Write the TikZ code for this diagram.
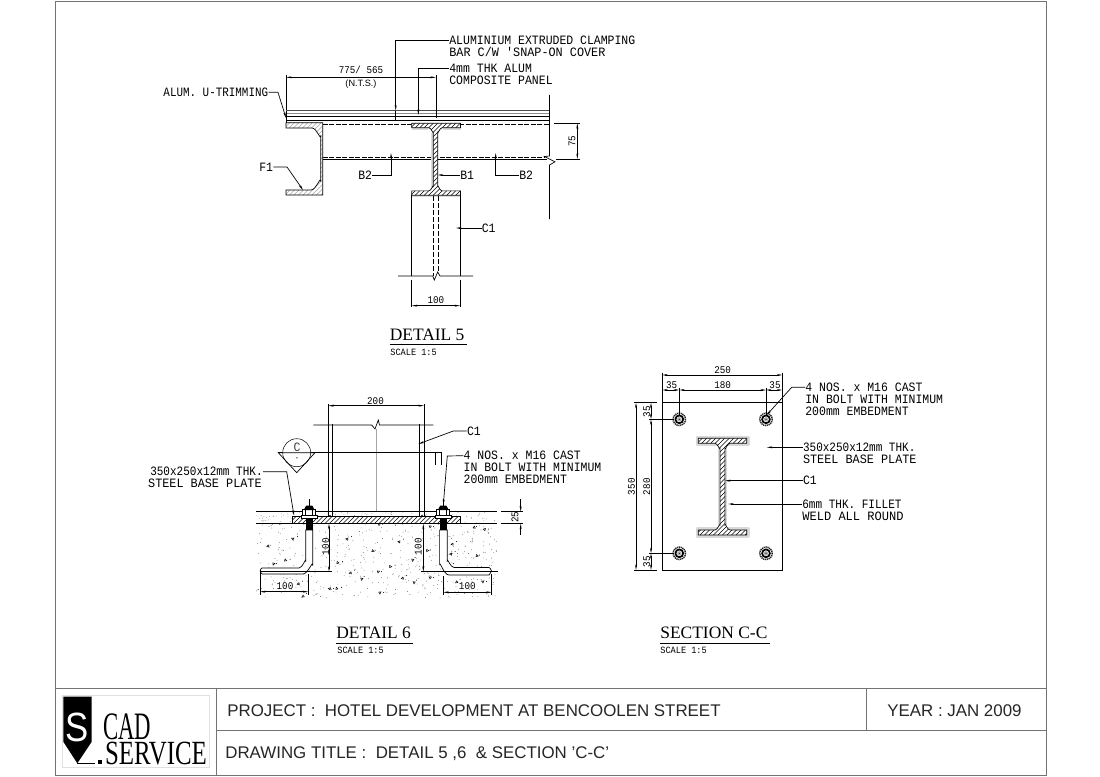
\documentclass[tikz,border=0pt]{standalone}
\usepackage{fontspec}
\usepackage{graphicx}
\usetikzlibrary{arrows.meta}
\setmainfont{Liberation Sans}
\newfontfamily\cadf[FakeStretch=0.9]{Liberation Mono}
\newfontfamily\serf{Liberation Serif}
\newcommand\hatchit[6][hatchline]{%
  \begin{scope}\clip #2;
  \pgfmathsetmacro\hh{#6-#4}\pgfmathsetmacro\xa{#3-\hh}\pgfmathsetmacro\xb{\xa+4.5}
  \foreach \s in {\xa,\xb,...,#5}{\draw[#1] (\s,#6) -- ++(\hh,-\hh);}
  \end{scope}}
% x1 x2 flange, w1 w2 web, y1 y2, t, r
\newcommand\ipath[8]{(#1,#5) -- (#2,#5) -- (#2,#5+#7) -- (#4+#8,#5+#7) to[out=180,in=-90] (#4,#5+#7+#8) -- (#4,#6-#7-#8) to[out=90,in=180] (#4+#8,#6-#7) -- (#2,#6-#7) -- (#2,#6) -- (#1,#6) -- (#1,#6-#7) -- (#3-#8,#6-#7) to[out=0,in=90] (#3,#6-#7-#8) -- (#3,#5+#7+#8) to[out=-90,in=0] (#3-#8,#5+#7) -- (#1,#5+#7) -- cycle}
\newcommand\agg[2]{\draw[line width=.45bp,rotate around={#1*7:(#1,#2)}] (#1,#2) -- ++(2.2,.6) -- ++(-1.6,1.8) -- cycle;
  \fill (#1+3.5,#2-1.5) circle (.5);}
\newcommand\bnut[2]{%
  \draw[fill=white] (#1-7.8,515) rectangle (#1+7.8,518);
  \draw[fill=white] (#1-6.5,509.5) rectangle (#1+6.5,515);
  \draw (#1-3.5,509.5) -- (#1-3.5,515) (#1+3.5,509.5) -- (#1+3.5,515);
  \fill (#1-5.5,510) -- (#1-3,505.5) -- (#1+3,505.5) -- (#1+5.5,510) -- cycle;
  \draw (#1,499) -- (#1,506);
  \fill (#1-3.5,518) rectangle (#1+3.5,530);}
\newcommand\sbolt[2]{%
  \draw[line width=1.5bp,dash pattern=on 1.2bp off .7bp,black!85] (#1,#2) circle (6.2);
  \draw[line width=1.7bp] (#1,#2) circle (3.9);
  \fill[gray!60] (#1,#2) circle (2.2);
  \fill (#1,#2) circle (.6);}
\tikzset{
  x=1bp,y=-1bp,
  hatchline/.style={line width=.55bp,black},
  ghatch/.style={line width=.4bp,gray!70},
  halo/.style={line width=1.6bp,gray!28},
  arr/.style={-{Stealth[length=5.5bp,width=2bp]}},
  dim/.style={{Stealth[length=5.5bp,width=2bp]}-{Stealth[length=5.5bp,width=2bp]}},
  lab/.style={font=\cadf\fontsize{12.8}{13}\selectfont,inner sep=0pt,anchor=west,text height=8.2bp,text depth=0pt},
  labr/.style={lab,anchor=east},
  dimt/.style={font=\cadf\fontsize{10.3}{11}\selectfont,inner sep=0pt,text height=6.8bp,text depth=0pt},
  ttl/.style={font=\serf\fontsize{17.5}{18}\selectfont,inner sep=0pt,anchor=west,text height=11.5bp,text depth=0pt},
  scl/.style={font=\cadf\fontsize{9.6}{10}\selectfont,inner sep=0pt,anchor=west,text height=6.4bp,text depth=0pt},
  tb/.style={font=\fontsize{16.95}{18}\selectfont,inner sep=0pt,anchor=west,text height=12.2bp,text depth=0pt,text=black!85},
  frm/.style={line width=1bp,black!55},
}
\begin{document}
\begin{tikzpicture}[line width=.68bp]
\useasboundingbox (0,0) rectangle (1100,777);
\fill[white] (0,0) rectangle (1100,777);
% frame
\draw[frm] (55,2) rectangle (1046,775);
\draw[frm] (55,688) -- (1046,688);
\draw[frm] (216,688) -- (216,775);
\draw[frm] (216,730) -- (1046,730);
\draw[frm] (866,688) -- (866,730);
% logo
\draw[line width=.5bp,black!12] (62.7,695) rectangle (209.3,767);
\fill (63.3,696.7) -- (91.7,696.7) -- (91.7,741.7) -- (77.3,763.3) -- (63.3,741.7) -- cycle;
\draw (77.3,763.3) -- (95,763.3);
\fill (98.3,759.7) rectangle (102.3,763.5);
\node[inner sep=0pt,text=white,font=\fontsize{41}{42}\selectfont] (logoS) at (77.3,727.5) {\scalebox{.85}[1]{S}};
\node[inner sep=0pt,font=\serf\fontsize{39}{40}\selectfont,anchor=base west] (logoCad) at (103,739) {\scalebox{.585}[1]{CAD}};
\node[inner sep=0pt,font=\serf\fontsize{34}{40}\selectfont,anchor=base west] (logoSvc) at (104.8,764.2) {\scalebox{.735}[1]{SERVICE}};
\node[tb] (tProj) at (227,710) {PROJECT :\ \ HOTEL DEVELOPMENT AT BENCOOLEN STREET};
\node[tb] (tYear) at (887,710) {YEAR : JAN 2009};
\node[tb] (tDraw) at (225,752) {DRAWING TITLE :\ \ DETAIL 5 ,6\ \ \& SECTION \symbol{39}C-C\symbol{39}};

%================ DETAIL 5
\draw[line width=.6bp,black!70] (286,110.7) -- (549.5,110.7);
\draw[line width=.5bp,black!45] (286,113.5) -- (549.5,113.5);
\draw[line width=1.3bp] (286,116.3) -- (549.5,116.3);
\draw[line width=.8bp] (286,120.3) -- (549.5,120.3);
\draw (286,110.7) -- (286,122.7);
% channel F1
\newcommand\chpath{(286,122.7) -- (322.7,122.7) -- (322.7,195) -- (286,195) -- (286,190) -- (311,190) to[out=0,in=90] (320.7,181) -- (320.7,136) to[out=-90,in=0] (312,128) -- (286,128) -- cycle}
\hatchit[ghatch]{\chpath}{286}{122}{323}{196}
\draw \chpath;
% beam B2
\draw[line width=.9bp,dash pattern=on 5bp off 1.5bp] (322.7,124.3) -- (549.5,124.3);
\draw[line width=.9bp,dash pattern=on 5bp off 1.5bp] (322.7,157.4) -- (545,157.4);
\draw[line width=.75bp] (322.7,159.2) -- (547,159.2);
\draw (549.5,95) -- (549.5,156) -- (544.5,156.5) -- (555,161.8) -- (549.5,165) -- (549.5,219);
% I-section
\draw[halo] (411.7,129) -- (428,129) (443,129) -- (460.7,129) (432,133) -- (432,187) (411.7,196.5) -- (460,196.5);
\fill[white] \ipath{411.7}{460.5}{433.3}{437.7}{123.3}{195.3}{4.4}{4.5};
\hatchit{\ipath{411.7}{460.5}{433.3}{437.7}{123.3}{195.3}{4.4}{4.5}}{411}{123}{461}{196}
\draw \ipath{411.7}{460.5}{433.3}{437.7}{123.3}{195.3}{4.4}{4.5};
% column
\draw (411.7,195.3) -- (411.7,276) (460.2,195.3) -- (460.2,276);
\draw[line width=.8bp,dash pattern=on 5bp off 2bp] (433.3,196) -- (433.3,276);
\draw[line width=.8bp,dash pattern=on 5bp off 2bp] (438.3,196) -- (438.3,272);
\draw (398,276) -- (432.7,276) -- (434.3,280) -- (437.7,272) -- (440,276) -- (473,276);
% dims
\draw (286,75) -- (286,110);
\draw (436,75) -- (436,118);
\draw[dim] (286,77.3) -- (436,77.3);
\node[dimt,font=\cadf\fontsize{10.3}{11}\selectfont] (d775) at (361,70) {775/ 565};
\node[dimt,font=\fontsize{9.2}{10}\selectfont] (dnts) at (361,83) {(N.T.S.)};
\draw (554,123.3) -- (580,123.3) (556,159) -- (580,159);
\draw[dim] (577.3,123.3) -- (577.3,159);
\node[dimt,rotate=90] (d75) at (572,141) {75};
\draw (411.7,280) -- (411.7,307) (460.2,280) -- (460.2,307);
\draw[dim] (411.7,305.7) -- (460.2,305.7);
\node[dimt] (d100) at (435.9,300.5) {100};
% labels & leaders
\node[labr] (lUtrim) at (268.5,92.3) {\scalebox{.95}[1]{ALUM. U-TRIMMING}};
\coordinate (cU1) at (278,92.3); \coordinate (cU2) at (286,118);
\draw[arr] (lUtrim.east) -- (cU1) -- (cU2);
\node[lab] (lAl1) at (449,40) {ALUMINIUM EXTRUDED CLAMPING};
\node[lab] (lAl2) at (449,52) {\scalebox{1.03}[1]{BAR C/W 'SNAP-ON COVER}};
\coordinate (cA1) at (395.7,40); \coordinate (cA2) at (395.7,110.5); \coordinate (cA3) at (395.7,120);
\draw[arr] (lAl1.west) -- (cA1) -- (cA2);
\draw (cA2) -- (cA3);
\node[lab] (lCp1) at (449,68.3) {4mm THK ALUM};
\node[lab] (lCp2) at (449,80.3) {COMPOSITE PANEL};
\coordinate (cC1) at (418.3,68.3); \coordinate (cC2) at (418.3,115);
\draw[arr] (lCp1.west) -- (cC1) -- (cC2);
\node[lab] (lF1) at (259,167) {F1};
\coordinate (cF1) at (287,167); \coordinate (cF2) at (303,190);
\draw[arr] (lF1.east) -- (cF1) -- (cF2);
\node[lab] (lB2a) at (358,175.7) {B2};
\coordinate (cB1) at (391,175.7); \coordinate (cB2) at (391,153);
\draw[arr] (lB2a.east) -- (cB1) -- (cB2);
\node[lab] (lB1) at (460,175) {B1};
\coordinate (cB3) at (437.7,175);
\draw[arr] (lB1.west) -- (cB3);
\node[lab] (lB2b) at (519,175.7) {B2};
\coordinate (cB4) at (495.7,175.7); \coordinate (cB5) at (495.7,153);
\draw[arr] (lB2b.west) -- (cB4) -- (cB5);
\node[lab] (lC1a) at (481.5,228) {C1};
\coordinate (cC3) at (456,228);
\draw[arr] (lC1a.west) -- (cC3);
\node[ttl] (tD5) at (389.5,334.5) {DETAIL 5};
\draw[line width=.9bp] (389.5,344) -- (467,344);
\node[scl] (sD5) at (390,352) {SCALE 1:5};

%================ DETAIL 6
% concrete
\begin{scope}
\pgfmathsetseed{4711}
\foreach \k in {1,...,480}{
  \pgfmathsetmacro\px{256+rnd*241}\pgfmathsetmacro\py{512+rnd*86}
  \fill[black!60] (\px,\py) circle (.42);}
\foreach \k in {1,...,80}{
  \pgfmathsetmacro\px{256+rnd*241}\pgfmathsetmacro\py{512.5+rnd*11}
  \fill[black!60] (\px,\py) circle (.38);}
\end{scope}
\foreach \a/\b in {266.7/546.7,294/538,286.7/560.7,273/565,348/538,371.7/551.7,339/563,351/571.7,360.7/578,338/589,330/590,303/595,299/582.7,379/525.7,430/528,473/528,485/530.7,453/543,451.7/553,476/556.7,450/565,426.7/551.7,411.7/559,400/540.7,391.7/566.7,378/573,403/577,413/581.7,430/579,456.7/580.7,483/583,380/594}{\agg{\a}{\b}}
\draw[line width=.75bp] (256,511.7) -- (496.7,511.7);
\draw[line width=.75bp] (256,523.5) -- (496.7,523.5);
% column
\draw (328.3,404) -- (328.3,516) (332.7,423.5) -- (332.7,516);
\draw (419.3,423.5) -- (419.3,516) (424,404) -- (424,516);
\draw (313.3,425) -- (371.7,425) -- (375,429) -- (378.3,420) -- (379.5,425) -- (433.3,425);
\draw[line width=.4bp,black!35] (376,429) -- (376,511);
% base plate
\newcommand\bppath{(292.7,516) -- (460.7,516) -- (460.7,523.7) -- (292.7,523.7) -- cycle}
\fill[white] \bppath;
\hatchit{\bppath}{292}{516}{461}{524}
\draw \bppath;
\fill (330,516) circle (1.2) (422,516) circle (1.2);
% bolts
\draw[fill=white] (305.7,530) -- (305.7,561) to[out=90,in=0] (299,568) -- (262,568) to[out=180,in=-90] (260,571) -- (262,574) -- (303,574) to[out=0,in=90] (312.7,565) -- (312.7,530) -- cycle;
\draw[fill=white] (447.3,530) -- (447.3,561) to[out=90,in=180] (454,567.5) -- (489,567.5) to[out=0,in=-90] (491.7,571) -- (489,575) -- (449,575) to[out=180,in=90] (439.6,565) -- (439.6,530) -- cycle;
\bnut{309.2}{}
\bnut{443.3}{}
% section cut
\draw (278.3,452.7) -- (441.7,452.7) -- (441.7,465) (435.7,452.7) -- (435.7,465);
\draw[line width=.5bp,fill=white] (296.7,452.7) circle (14);
\draw (278.3,452.7) -- (315,452.7) -- (296.7,472.7) -- cycle;
\node[inner sep=0pt,font=\cadf\fontsize{12.8}{13}\selectfont,text=black!75] (secC) at (297,447) {C};
\node[inner sep=0pt,font=\cadf\fontsize{8}{9}\selectfont] (secD) at (297,459) {-};
% dims
\draw[dim] (328.3,405.7) -- (424,405.7);
\node[dimt] (d200) at (375.5,401) {200};
\draw (260,571.7) -- (331.7,571.7);
\draw[dim] (329,523.7) -- (329,571.7);
\node[dimt,rotate=90] (d100a) at (325.7,546.7) {100};
\draw (260,570) -- (260,595) (308.3,574) -- (308.3,595);
\draw[dim] (260,591.7) -- (308.3,591.7);
\node[dimt] (d100b) at (285,586.5) {100};
\draw (420.7,571.7) -- (498,571.7);
\draw[dim] (423.3,523.7) -- (423.3,571.7);
\node[dimt,rotate=90] (d100c) at (418.3,546.7) {100};
\draw (443.3,576) -- (443.3,595) (491.7,574) -- (491.7,595);
\draw[dim] (443.3,592.3) -- (491.7,592.3);
\node[dimt] (d100d) at (467.3,586.5) {100};
\draw (500.7,511.7) -- (523.3,511.7) (500.7,523.7) -- (523.3,523.7);
\draw[-{Stealth[length=5.5bp,width=2bp]}] (520.7,499.3) -- (520.7,511.7);
\draw[-{Stealth[length=5.5bp,width=2bp]}] (520.7,535) -- (520.7,523.7);
\node[dimt,rotate=90] (d25) at (515,517) {25};
% labels
\node[labr] (lPl1) at (263,471.7) {\scalebox{.96}[1]{350x250x12mm THK.}};
\node[labr] (lPl2) at (262,483) {\scalebox{1.03}[1]{STEEL BASE PLATE}};
\coordinate (cP1) at (286.7,471.7); \coordinate (cP2) at (294,515.5);
\draw[arr] (lPl1.east) -- (cP1) -- (cP2);
\node[lab] (lC1b) at (466.7,431) {C1};
\coordinate (cC4) at (453.3,431); \coordinate (cC5) at (418.3,444);
\draw[arr] (lC1b.west) -- (cC4) -- (cC5);
\node[lab] (lN1) at (463.3,455.7) {4 NOS. x M16 CAST};
\node[lab] (lN2) at (463.3,467.7) {IN BOLT WITH MINIMUM};
\node[lab] (lN3) at (463.3,479.3) {200mm EMBEDMENT};
\coordinate (cN1) at (447.3,456); \coordinate (cN2) at (443.3,505);
\draw[arr] (lN1.west) -- (cN1) -- (cN2);
\node[ttl] (tD6) at (336,632.5) {DETAIL 6};
\draw[line width=.9bp] (336,643) -- (413,643);
\node[scl] (sD6) at (337,650) {SCALE 1:5};

%================ SECTION C-C
\draw (662.3,402.7) rectangle (782.3,570);
\draw[line width=1bp] (662.3,402.7) -- (782.3,402.7);
\draw[line width=2.6bp,gray!30,line join=round] (696.8,436.8) rectangle (748.2,444.8);
\draw[line width=2.6bp,gray!30,line join=round] (696.8,528.5) rectangle (748.2,536.5);
\draw[line width=1.5bp,gray!30] (718.5,448) -- (718.5,526) (726.5,448) -- (726.5,526);
\fill[white] \ipath{698.3}{746.7}{720}{725}{438.3}{535}{5}{5};
\hatchit{\ipath{698.3}{746.7}{720}{725}{438.3}{535}{5}{5}}{698}{438}{747}{535}
\draw \ipath{698.3}{746.7}{720}{725}{438.3}{535}{5}{5};
\sbolt{679.3}{419.3}\sbolt{766}{419.3}\sbolt{679.3}{553.3}\sbolt{766}{553.3}
% dims
\draw (662.3,372.7) -- (662.3,402.7) (782.3,372.7) -- (782.3,402.7);
\draw[dim] (662.3,375) -- (782.3,375);
\node[dimt] (d250) at (722.7,370) {250};
\draw (679.3,387.7) -- (679.3,415) (766,387.7) -- (766,415);
\draw[dim] (662.3,390) -- (679.3,390);
\draw[dim] (679.3,390) -- (766,390);
\draw[dim] (766,390) -- (782.3,390);
\node[dimt] (d35a) at (671.7,385.3) {35};
\node[dimt] (d180) at (722.7,385.3) {180};
\node[dimt] (d35b) at (775,385.3) {35};
\draw (634,402.7) -- (657,402.7) (634,570) -- (657,570);
\draw[dim] (636,402.7) -- (636,570);
\node[dimt,rotate=90] (d350) at (631.5,486.7) {350};
\draw (649,419.3) -- (674,419.3) (649,553.3) -- (674,553.3);
\draw[dim] (651,402.7) -- (651,419.3);
\draw[dim] (651,419.3) -- (651,553.3);
\draw[dim] (651,553.3) -- (651,570);
\node[dimt,rotate=90] (d35c) at (646.7,411.7) {35};
\node[dimt,rotate=90] (d280) at (646.7,486.7) {280};
\node[dimt,rotate=90] (d35d) at (646.7,561.7) {35};
% labels
\node[lab] (lM1) at (805,387.3) {4 NOS. x M16 CAST};
\node[lab] (lM2) at (805,399.7) {IN BOLT WITH MINIMUM};
\node[lab] (lM3) at (805,411.7) {200mm EMBEDMENT};
\coordinate (cM1) at (791.7,387.3); \coordinate (cM2) at (766.7,415);
\draw[arr] (lM1.west) -- (cM1) -- (cM2);
\node[lab] (lS1) at (802.7,447.3) {\scalebox{.96}[1]{350x250x12mm THK.}};
\node[lab] (lS2) at (802.7,459.3) {\scalebox{1.03}[1]{STEEL BASE PLATE}};
\coordinate (cS1) at (766.7,447.3);
\draw[arr] (lS1.west) -- (cS1);
\node[lab] (lC1c) at (802.7,480.7) {C1};
\coordinate (cS2) at (725,480.7);
\draw[arr] (lC1c.west) -- (cS2);
\node[lab] (lW1) at (802,504) {\scalebox{.96}[1]{6mm THK. FILLET}};
\node[lab] (lW2) at (802,516) {\scalebox{1.05}[1]{WELD ALL ROUND}};
\coordinate (cS3) at (728.3,504);
\draw[arr] (lW1.west) -- (cS3);
\node[ttl] (tSC) at (660,632.5) {SECTION C-C};
\draw[line width=.9bp] (660,643) -- (770,643);
\node[scl] (sSC) at (660,650) {SCALE 1:5};
\end{tikzpicture}
\end{document}
